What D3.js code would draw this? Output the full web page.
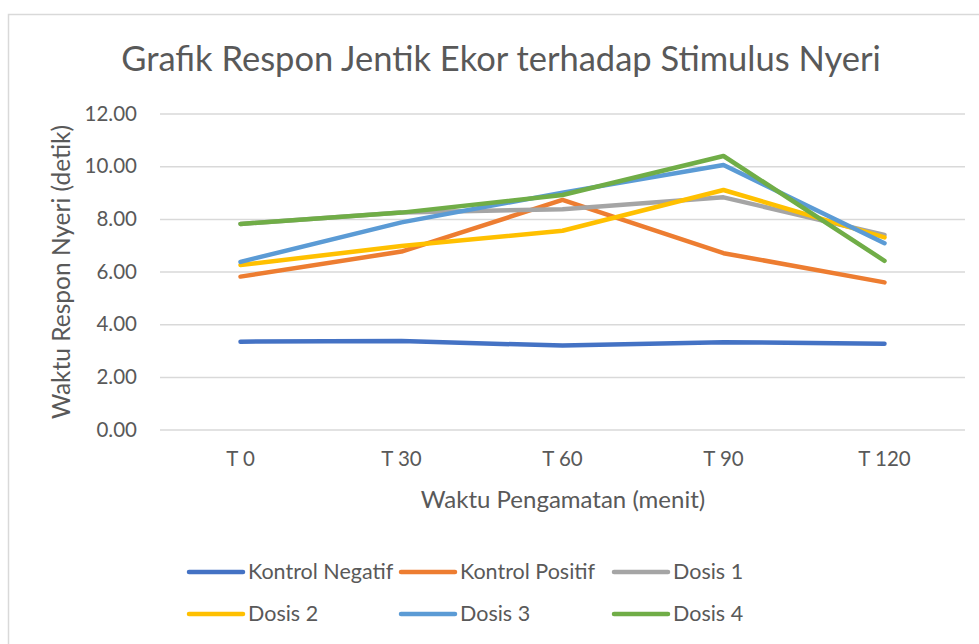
<!DOCTYPE html>
<html>
<head>
<meta charset="utf-8">
<script src="https://cdn.jsdelivr.net/npm/d3@7"></script>
<style>
  body { margin: 0; background: #fff; }
  text { font-family: Lato, "Open Sans", sans-serif; fill: #595959; }
</style>
</head>
<body>
<script>
var categories = ["T 0", "T 30", "T 60", "T 90", "T 120"];
var seriesNames = ["Kontrol Negatif", "Kontrol Positif", "Dosis 1", "Dosis 2", "Dosis 3", "Dosis 4"];
var kontrolNegatif = [3.34, 3.36, 3.19, 3.32, 3.26];
var kontrolPositif = [5.81, 6.76, 8.72, 6.70, 5.59];
var dosis1 = [7.81, 8.24, 8.37, 8.82, 7.39];
var dosis2 = [6.25, 6.97, 7.55, 9.10, 7.30];
var dosis3 = [6.37, 7.87, 9.00, 10.05, 7.08];
var dosis4 = [7.81, 8.24, 8.91, 10.39, 6.41];
var yTicks = [0, 2, 4, 6, 8, 10, 12];
var colors = ["#4472C4", "#ED7D31", "#A5A5A5", "#FFC000", "#5B9BD5", "#70AD47"];

var allSeries = [kontrolNegatif, kontrolPositif, dosis1, dosis2, dosis3, dosis4];

var width = 979, height = 644;
var plotLeft = 160, plotRight = 965, plotTop = 113.6, plotBottom = 429.6;

var svg = d3.select("body").append("svg")
    .attr("width", width)
    .attr("height", height);

// chart border
svg.append("rect")
    .attr("x", 8.5).attr("y", 14.5)
    .attr("width", 985).attr("height", 650)
    .attr("fill", "none")
    .attr("stroke", "#d9d9d9")
    .attr("stroke-width", 1.5);

var x = d3.scaleBand()
    .domain(categories)
    .range([plotLeft, plotRight]);

var y = d3.scaleLinear()
    .domain([0, 12])
    .range([plotBottom, plotTop]);

// gridlines + y labels
var yAxis = d3.axisLeft(y)
    .tickValues(yTicks)
    .tickSize(-(plotRight - plotLeft))
    .tickPadding(23)
    .tickFormat(d3.format(".2f"));
var gy = svg.append("g")
    .attr("transform", "translate(" + plotLeft + ",0)")
    .call(yAxis);
gy.select(".domain").remove();
gy.selectAll(".tick line").attr("stroke", "#d9d9d9").attr("stroke-width", 1.5);
gy.selectAll(".tick text")
    .attr("font-size", "20.5px")
    .attr("font-family", "Lato, sans-serif")
    .style("fill", "#595959");

var xAxis = d3.axisBottom(x).tickSize(0).tickPadding(22);
var gx = svg.append("g")
    .attr("transform", "translate(0," + plotBottom + ")")
    .call(xAxis);
gx.select(".domain").remove();
gx.selectAll(".tick text")
    .attr("font-size", "20.5px")
    .attr("font-family", "Lato, sans-serif")
    .style("fill", "#595959");

// lines
var line = d3.line()
    .x(function(d, i) { return x(categories[i]) + x.bandwidth() / 2; })
    .y(function(d) { return y(d); });

allSeries.forEach(function(s, i) {
    svg.append("path")
        .datum(s)
        .attr("d", line)
        .attr("fill", "none")
        .attr("stroke", colors[i])
        .attr("stroke-width", 4.5)
        .attr("stroke-linejoin", "round")
        .attr("stroke-linecap", "round");
});

// title
svg.append("text")
    .attr("x", 501)
    .attr("y", 71)
    .attr("text-anchor", "middle")
    .attr("font-size", "34.5px")
    .text("Grafik Respon Jentik Ekor terhadap Stimulus Nyeri");

// axis titles
svg.append("text")
    .attr("transform", "translate(70,272) rotate(-90)")
    .attr("text-anchor", "middle")
    .attr("font-size", "24.5px")
    .text("Waktu Respon Nyeri (detik)");

svg.append("text")
    .attr("x", 563)
    .attr("y", 508)
    .attr("text-anchor", "middle")
    .attr("font-size", "24px")
    .text("Waktu Pengamatan (menit)");

// legend
var legX = [189, 401, 614];
var legY = [572, 614];
seriesNames.forEach(function(name, i) {
    var lx = legX[i % 3], ly = legY[Math.floor(i / 3)];
    svg.append("line")
        .attr("x1", lx).attr("x2", lx + 54)
        .attr("y1", ly).attr("y2", ly)
        .attr("stroke", colors[i])
        .attr("stroke-width", 4.5)
        .attr("stroke-linecap", "round");
    svg.append("text")
        .attr("x", lx + 59)
        .attr("y", ly + 7)
        .attr("font-size", "21.5px")
        .text(name);
});
</script>
</body>
</html>
